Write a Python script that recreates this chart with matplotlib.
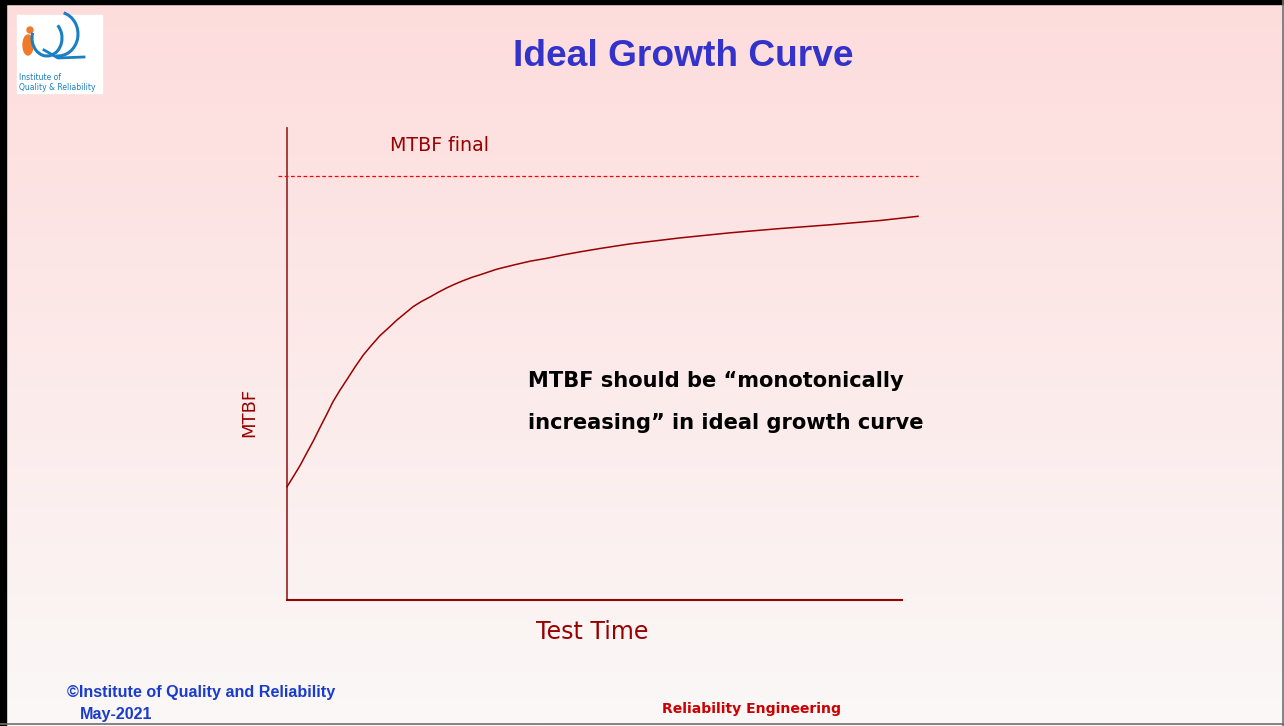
import numpy as np
import matplotlib
matplotlib.use('Agg')
import matplotlib.pyplot as plt
from matplotlib import font_manager as fm
from matplotlib.patches import Rectangle, Arc, Ellipse

# curve data (test time 0..100, MTBF 0..100 where 100 = MTBF final)
test_time = [0, 1.0, 2.1, 3.1, 4.2, 5.2, 6.3, 7.3, 8.4, 9.5, 10.8, 12.1, 13.4,
             14.7, 16.1, 17.4, 18.7, 20.0, 21.3, 22.7, 24.0, 25.3, 26.6, 27.9,
             29.3, 30.6, 33.2, 35.9, 38.5, 41.2, 43.8, 46.4, 49.6, 54.4, 62.3,
             70.2, 78.1, 86.1, 94.0, 100]
mtbf = [26.7, 29.1, 31.8, 34.6, 37.6, 40.6, 43.8, 46.8, 49.5, 52.0, 55.0, 57.8,
        60.1, 62.3, 64.2, 66.0, 67.6, 69.2, 70.4, 71.5, 72.6, 73.6, 74.5, 75.3,
        76.1, 76.7, 78.0, 79.0, 79.9, 80.6, 81.4, 82.1, 82.9, 84.0, 85.4,
        86.6, 87.6, 88.5, 89.5, 90.5]
mtbf_final = 100


def arial_like(bold=True):
    # pick the regular-width Liberation Sans file, not the Narrow one
    for f in fm.fontManager.ttflist:
        if f.name == 'Liberation Sans' and 'Narrow' not in f.fname:
            if (f.weight in (700, 'bold')) == bold and f.style == 'normal':
                return fm.FontProperties(fname=f.fname)
    return fm.FontProperties(family='DejaVu Sans', weight='bold' if bold else 'normal')


arial_b = arial_like(True)

W, H = 1284, 726
fig = plt.figure(figsize=(W / 100, H / 100), dpi=100)

# background gradient + slide border
bg = fig.add_axes([0, 0, 1, 1])
bg.set_xlim(0, W)
bg.set_ylim(H, 0)
bg.axis('off')
top = np.array([254, 220, 220]) / 255
bot = np.array([250, 248, 247]) / 255
g = np.linspace(0, 1, 256)[:, None]
grad = top[None, None, :] * (1 - g[:, :, None]) + bot[None, None, :] * g[:, :, None]
bg.imshow(grad, extent=[0, W, H, 0], aspect='auto')
bg.add_patch(Rectangle((0, 0), 6, H, color='black'))
bg.add_patch(Rectangle((0, 0), W, 4, color='black'))
bg.plot([0, W], [723.5, 723.5], color='#707070', lw=1.2)
bg.plot([1283, 1283], [0, H], color='#707070', lw=1.2)

# logo
bg.add_patch(Rectangle((17, 15), 85, 78, color='white'))
bg.add_patch(Ellipse((28, 45), 10, 20, color='#f07a2a'))
bg.add_patch(Ellipse((30, 30), 6, 6, color='#f07a2a'))
bg.add_patch(Arc((47, 38), 30, 36, theta1=-50, theta2=200, color='#1a7fc4', lw=2.2))
bg.add_patch(Arc((58, 34), 40, 44, theta1=-75, theta2=95, color='#1a7fc4', lw=2.2))
bg.plot([44, 58, 84], [50, 58, 57], color='#1a7fc4', lw=2.0)
bg.text(19, 77, 'Institute of', fontsize=5.5, color='#1a7fc4', va='center')
bg.text(19, 87, 'Quality & Reliability', fontsize=5.5, color='#1a7fc4', va='center')

# title + footer
bg.text(683, 57, 'Ideal Growth Curve', fontproperties=arial_b, fontsize=26.7,
        color='#3333cc', ha='center', va='center')
bg.text(67, 692, '\u00a9Institute of Quality and Reliability', fontproperties=arial_b,
        fontsize=11.6, color='#1a3ccc', va='center')
bg.text(80, 714, 'May-2021', fontproperties=arial_b, fontsize=11.6, color='#1a3ccc',
        va='center')
bg.text(751, 709, 'Reliability Engineering', fontsize=10.1, fontweight='bold',
        color='#cc0000', ha='center', va='center')

# chart axes: x pixel 287 -> t=0, 918 -> t=100 ; y pixel 600 -> 0, 176 -> 100
x0, x1 = 287, 918
y0, y1 = 600, 176
ax = fig.add_axes([x0 / W, (H - y0) / H, (x1 - x0) / W, (y0 - y1) / H])
ax.patch.set_alpha(0)
ax.set_xlim(0, 100)
ax.set_ylim(0, 100)
ax.axis('off')

red = '#990000'
ax.plot([0, 0], [0, 111.3], color='#a03030', lw=1.3, clip_on=False)
ax.plot([0, 97.5], [0, 0], color=red, lw=1.5, clip_on=False)
ax.plot([-1.4, 100], [mtbf_final, mtbf_final], color='red', lw=0.9,
        ls=(0, (3, 2)), clip_on=False)
ax.plot(test_time, mtbf, color=red, lw=1.1, clip_on=False,
        solid_joinstyle='round')

ax.text(24.2, 107.2, 'MTBF final', fontsize=13.7, color=red, ha='center', va='center')
ax.text(-6, 44.3, 'MTBF', fontsize=13, color=red, rotation=90, ha='center', va='center')
ax.text(48.3, -7.5, 'Test Time', fontsize=17, color=red, ha='center', va='center')
ax.text(38.2, 51.7, 'MTBF should be \u201cmonotonically', fontsize=15.1,
        fontweight='bold', color='black', va='center')
ax.text(38.2, 41.7, 'increasing\u201d in ideal growth curve', fontsize=15.1,
        fontweight='bold', color='black', va='center')

fig.savefig('out.png', dpi=100)
